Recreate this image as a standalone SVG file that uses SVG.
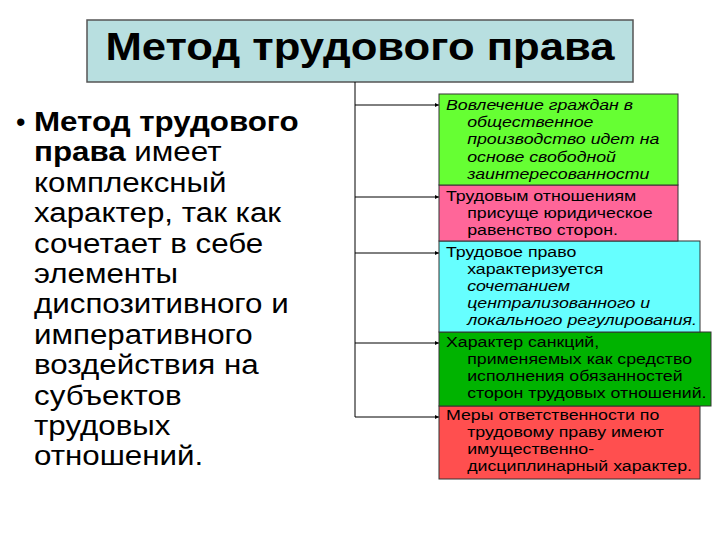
<svg xmlns="http://www.w3.org/2000/svg" width="720" height="540" viewBox="0 0 720 540">
<style>
.box{stroke:#333;stroke-width:1}
.t{font-family:"Liberation Sans",Arial,sans-serif;font-size:15.5px;fill:#000}
.i{font-style:italic}
.left{font-family:"Liberation Sans",Arial,sans-serif;font-size:27px;fill:#000}
.conn{stroke:#000;stroke-width:1;fill:none}
</style>
<defs>
<marker id="ah" viewBox="0 0 6 6" refX="6" refY="3" markerWidth="4" markerHeight="4" orient="auto">
<path d="M0,0 L6,3 L0,6 z" fill="#000"/>
</marker>
</defs>
<rect width="720" height="540" fill="#fff"/>
<g id="title">
<rect x="87" y="20" width="546" height="62" fill="#b8dfe0" stroke="#555" stroke-width="1.5"/>
<text transform="translate(360,60) scale(1.12,1)" x="0" y="0" text-anchor="middle" font-family="Liberation Sans,Arial,sans-serif" font-size="39" font-weight="bold">Метод трудового права</text>
</g>
<g id="left-text">
<text class="left" x="16" y="131">•</text>
<g transform="translate(34,0) scale(1.16,1)">
<text class="left" x="0" y="131"><tspan font-weight="bold">Метод трудового</tspan></text>
<text class="left" x="0" y="161.4"><tspan font-weight="bold">права</tspan> имеет</text>
<text class="left" x="0" y="191.8">комплексный</text>
<text class="left" x="0" y="222.2">характер, так как</text>
<text class="left" x="0" y="252.6">сочетает в себе</text>
<text class="left" x="0" y="283">элементы</text>
<text class="left" x="0" y="313.4">диспозитивного и</text>
<text class="left" x="0" y="343.8">императивного</text>
<text class="left" x="0" y="374.2">воздействия на</text>
<text class="left" x="0" y="404.6">субъектов</text>
<text class="left" x="0" y="435">трудовых</text>
<text class="left" x="0" y="465.4">отношений.</text>
</g>
</g>
<g id="connectors">
<path class="conn" d="M355,82 V417"/>
<path class="conn" d="M355,105 H439" marker-end="url(#ah)"/>
<path class="conn" d="M355,197 H439" marker-end="url(#ah)"/>
<path class="conn" d="M355,253 H439" marker-end="url(#ah)"/>
<path class="conn" d="M355,343 H439" marker-end="url(#ah)"/>
<path class="conn" d="M355,417 H439" marker-end="url(#ah)"/>
</g>
<g id="box5">
<rect class="box" x="439" y="406" width="261" height="73" fill="#ff4f4f"/>
<g transform="translate(446,0) scale(1.145,1)">
<text class="t" x="0" y="420">Меры ответственности по</text>
<text class="t" x="18.5" y="437">трудовому праву имеют</text>
<text class="t" x="18.5" y="454">имущественно-</text>
<text class="t" x="18.5" y="471">дисциплинарный характер.</text>
</g>
</g>
<g id="box4">
<rect class="box" x="439" y="332" width="272" height="74" fill="#00b300"/>
<g transform="translate(446,0) scale(1.145,1)">
<text class="t" x="0" y="347">Характер санкций,</text>
<text class="t" x="18.5" y="364">применяемых как средство</text>
<text class="t" x="18.5" y="381">исполнения обязанностей</text>
<text class="t" x="18.5" y="398">сторон трудовых отношений.</text>
</g>
</g>
<g id="box3">
<rect class="box" x="439" y="241" width="261" height="91" fill="#66ffff"/>
<g transform="translate(446,0) scale(1.145,1)">
<text class="t" x="0" y="257">Трудовое право</text>
<text class="t" x="18.5" y="274">характеризуется</text>
<text class="t i" x="18.5" y="291">сочетанием</text>
<text class="t i" x="18.5" y="308">централизованного и</text>
<text class="t i" x="18.5" y="325">локального регулирования.</text>
</g>
</g>
<g id="box2">
<rect class="box" x="439" y="185" width="239" height="56" fill="#ff6699"/>
<g transform="translate(446,0) scale(1.145,1)">
<text class="t" x="0" y="201">Трудовым отношениям</text>
<text class="t" x="18.5" y="218">присуще юридическое</text>
<text class="t" x="18.5" y="235">равенство сторон.</text>
</g>
</g>
<g id="box1">
<rect class="box" x="439" y="94" width="239" height="91" fill="#66ff33"/>
<g transform="translate(446,0) scale(1.145,1)">
<text class="t i" x="0" y="110">Вовлечение граждан в</text>
<text class="t i" x="18.5" y="127">общественное</text>
<text class="t i" x="18.5" y="144.5">производство идет на</text>
<text class="t i" x="18.5" y="162">основе свободной</text>
<text class="t i" x="18.5" y="179">заинтересованности</text>
</g>
</g>
</svg>
